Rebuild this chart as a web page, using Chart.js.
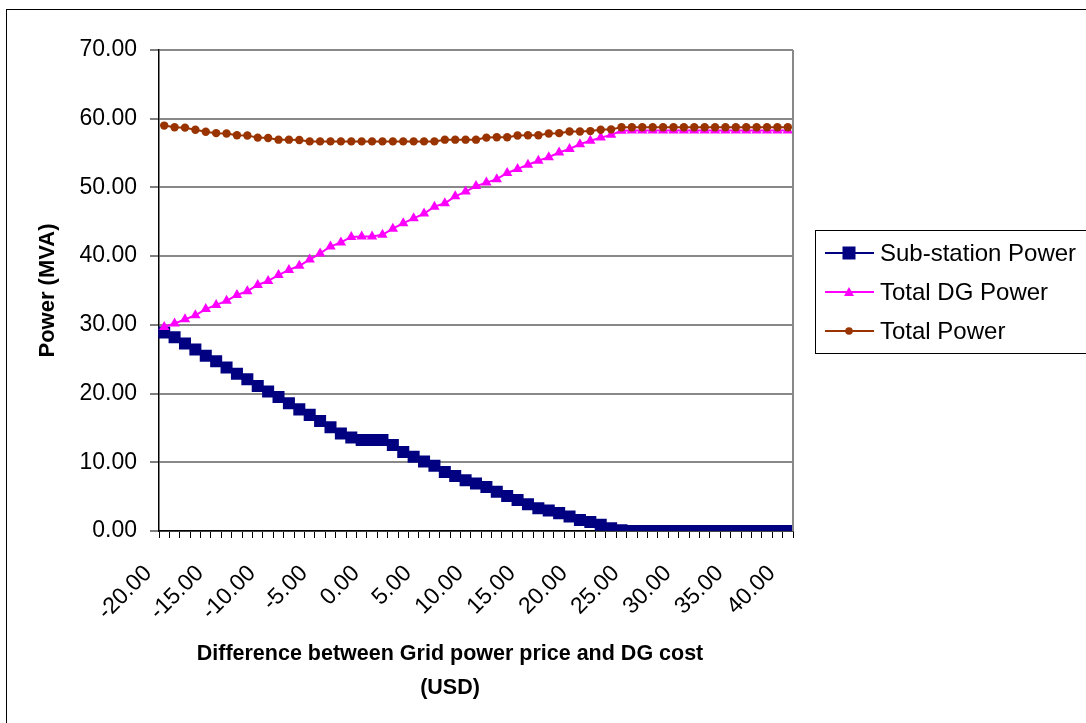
<!DOCTYPE html>
<html>
<head>
<meta charset="utf-8">
<title>Power vs price difference</title>
<script src="https://cdn.jsdelivr.net/npm/chart.js"></script>
<style>
  html, body { margin: 0; padding: 0; background: #fff; }
  #wrap { width: 1086px; height: 723px; }
</style>
</head>
<body>
<div id="wrap"><canvas id="powerChart" width="1086" height="723"></canvas></div>
<script>
// x categories: grid price minus DG cost (USD)
const priceDiff = [-20, -19, -18, -17, -16, -15, -14, -13, -12, -11, -10, -9, -8, -7, -6, -5, -4, -3, -2, -1,
  0, 1, 2, 3, 4, 5, 6, 7, 8, 9, 10, 11, 12, 13, 14, 15, 16, 17, 18, 19, 20,
  21, 22, 23, 24, 25, 26, 27, 28, 29, 30, 31, 32, 33, 34, 35, 36, 37, 38, 39, 40];

const subStationPower = [28.9, 28.2, 27.3, 26.4, 25.5, 24.7, 23.8, 22.9, 22.1, 21.1,
  20.3, 19.5, 18.6, 17.7, 16.9, 16.0, 15.1, 14.2, 13.6, 13.25,
  13.25, 13.25, 12.5, 11.5, 10.8, 10.1, 9.5, 8.6, 8.0, 7.4,
  6.9, 6.4, 5.7, 5.1, 4.5, 3.9, 3.3, 3.0, 2.6, 2.1,
  1.6, 1.3, 0.9, 0.4, 0.1, 0, 0, 0, 0, 0,
  0, 0, 0, 0, 0, 0, 0, 0, 0, 0, 0];

const totalDGPower = [29.7, 30.2, 30.8, 31.4, 32.3, 32.9, 33.5, 34.35, 34.9, 35.8,
  36.4, 37.25, 38.0, 38.6, 39.5, 40.4, 41.4, 42.0, 42.8, 42.85,
  42.85, 43.1, 44.0, 44.8, 45.5, 46.2, 47.2, 47.7, 48.7, 49.4,
  50.2, 50.7, 51.2, 52.1, 52.7, 53.3, 53.9, 54.4, 55.1, 55.6,
  56.3, 56.8, 57.25, 57.65, 58.25, 58.3, 58.3, 58.3, 58.3, 58.3,
  58.3, 58.3, 58.3, 58.3, 58.3, 58.3, 58.3, 58.3, 58.3, 58.3, 58.3];

const totalPower = [59.0, 58.75, 58.7, 58.4, 58.1, 57.9, 57.85, 57.6, 57.55, 57.25,
  57.2, 56.95, 56.95, 56.9, 56.7, 56.7, 56.7, 56.7, 56.7, 56.7,
  56.7, 56.7, 56.7, 56.7, 56.7, 56.7, 56.7, 56.95, 56.95, 56.95,
  56.95, 57.25, 57.3, 57.3, 57.55, 57.6, 57.6, 57.85, 57.9, 58.15,
  58.15, 58.2, 58.4, 58.45, 58.75, 58.75, 58.75, 58.75, 58.75, 58.75,
  58.75, 58.75, 58.75, 58.75, 58.75, 58.75, 58.75, 58.75, 58.75, 58.75, 58.75];

const seriesNames = ['Sub-station Power', 'Total DG Power', 'Total Power'];
const yTitle = 'Power (MVA)';
const xTitle = ['Difference between Grid power price and DG cost', '(USD)'];

const FONT = '"Liberation Sans", Arial, sans-serif';
Chart.defaults.font.family = FONT;
Chart.defaults.color = '#000';

// frame, plot border, x title and the boxed legend
const extras = {
  id: 'extras',
  beforeDraw(chart) {
    const ctx = chart.ctx;
    ctx.save();
    ctx.fillStyle = '#fff';
    ctx.fillRect(0, 0, chart.width, chart.height);
    ctx.restore();
  },
  afterDraw(chart) {
    const ctx = chart.ctx;
    const area = chart.chartArea;
    ctx.save();
    ctx.strokeStyle = '#000';
    ctx.lineWidth = 1;
    ctx.strokeRect(6.5, 9.5, 1300, 900);

    ctx.strokeStyle = '#888';
    ctx.lineWidth = 2;
    ctx.beginPath();
    ctx.moveTo(area.right, area.top);
    ctx.lineTo(area.right, area.bottom);
    ctx.stroke();

    ctx.fillStyle = '#000';
    ctx.font = 'bold 21.5px ' + FONT;
    ctx.textAlign = 'center';
    ctx.textBaseline = 'middle';
    xTitle.forEach((t, i) => ctx.fillText(t, 450, 654 + i * 34));

    // legend
    ctx.strokeStyle = '#000';
    ctx.lineWidth = 1;
    ctx.strokeRect(815.5, 230.5, 400, 123);
    ctx.font = '24px ' + FONT;
    ctx.textAlign = 'left';
    chart.data.datasets.forEach((ds, i) => {
      const y = 253 + i * 39;
      ctx.strokeStyle = ds.borderColor;
      ctx.fillStyle = ds.borderColor;
      ctx.lineWidth = 2;
      ctx.beginPath();
      ctx.moveTo(825, y);
      ctx.lineTo(874, y);
      ctx.stroke();
      const cx = 849;
      ctx.beginPath();
      if (ds.pointStyle === 'rect') {
        ctx.rect(cx - 6.5, y - 6.5, 13, 13);
      } else if (ds.pointStyle === 'triangle') {
        ctx.moveTo(cx, y - 5);
        ctx.lineTo(cx + 5, y + 4);
        ctx.lineTo(cx - 5, y + 4);
        ctx.closePath();
      } else {
        ctx.arc(cx, y, 3.8, 0, Math.PI * 2);
      }
      ctx.fill();
      ctx.fillStyle = '#000';
      ctx.fillText(ds.label, 880, y + 1);
    });
    ctx.restore();
  }
};

new Chart(document.getElementById('powerChart'), {
  type: 'line',
  data: {
    labels: priceDiff,
    datasets: [
      {
        label: seriesNames[0],
        data: subStationPower,
        borderColor: '#000080',
        backgroundColor: '#000080',
        borderWidth: 2,
        pointStyle: 'rect',
        pointRadius: 8.5,
        pointBorderWidth: 0,
        order: 3
      },
      {
        label: seriesNames[1],
        data: totalDGPower,
        borderColor: '#ff00ff',
        backgroundColor: '#ff00ff',
        borderWidth: 2,
        pointStyle: 'triangle',
        pointRadius: 6,
        pointBorderWidth: 0,
        order: 2
      },
      {
        label: seriesNames[2],
        data: totalPower,
        borderColor: '#993300',
        backgroundColor: '#993300',
        borderWidth: 2,
        pointStyle: 'circle',
        pointRadius: 4.2,
        pointBorderWidth: 0,
        order: 1
      }
    ]
  },
  options: {
    responsive: false,
    animation: false,
    layout: { padding: { top: 50, right: 293, left: 0, bottom: 0 } },
    plugins: {
      legend: { display: false },
      tooltip: { enabled: false }
    },
    scales: {
      x: {
        type: 'category',
        offset: true,
        afterFit(scale) { scale.height = 192; },
        grid: {
          offset: true,
          drawOnChartArea: false,
          color: '#000',
          tickLength: 7,
          lineWidth: 1
        },
        border: { color: '#000', width: 1.5 },
        ticks: {
          autoSkip: false,
          minRotation: 45,
          maxRotation: 45,
          padding: 22,
          labelOffset: -16,
          font: { size: 23 },
          callback(value, index) {
            return index % 5 === 0 ? Number(this.getLabelForValue(value)).toFixed(2) : '';
          }
        }
      },
      y: {
        min: 0,
        max: 70,
        afterFit(scale) { scale.width = 159; },
        grid: {
          color: '#888',
          lineWidth: 2,
          tickColor: '#000',
          tickWidth: 1,
          tickLength: 9
        },
        border: { color: '#000', width: 1.5 },
        title: {
          display: true,
          text: yTitle,
          font: { size: 22, weight: 'bold' },
          padding: { top: 35, bottom: 0 }
        },
        ticks: {
          stepSize: 10,
          padding: 13,
          font: { size: 23 },
          callback: v => v.toFixed(2)
        }
      }
    }
  },
  plugins: [extras]
});
</script>
</body>
</html>
